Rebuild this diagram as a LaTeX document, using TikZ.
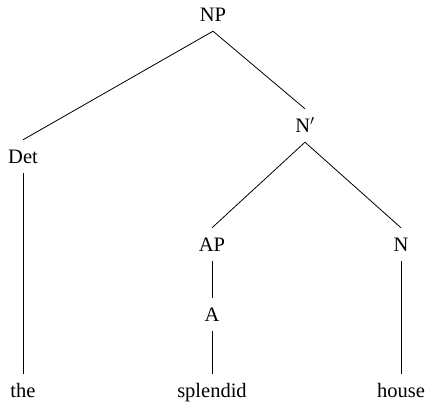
\documentclass[tikz,border=0pt]{standalone}
\usepackage{fontspec}
\setmainfont{Liberation Serif}
\usepackage{tikz}
\usetikzlibrary{positioning}
\tikzstyle{cat}=[anchor=base, inner xsep=0pt, inner ysep=0pt, text height=24pt,
  text depth=9pt, font=\fontsize{20.5}{24}\selectfont]
\tikzstyle{branch}=[draw, line width=0.8pt, color=black]
\newcommand{\cat}[2]{node (#1)[cat]{#2}}
\begin{document}
\begin{tikzpicture}[x=1pt,y=-1pt]
  \useasboundingbox (0,0) rectangle (432,409);

  % Draw the labels of the tree

  \path (213,22) \cat{np}{NP};
  \path (23,164) \cat{det}{Det};
  \path (305,133) \cat{nbar}{N$'$};
  \path (212,252) \cat{ap}{AP};
  \path (401,252) \cat{n}{N};
  \path (212,322) \cat{a}{A};

  \path (23,398) \cat{the}{the};
  \path (212,398) \cat{splendid}{splendid};
  \path (401,398) \cat{house}{house};

  % Draw the branches

  \path [branch] (np.south) -- (det.north);
  \path [branch] (np.south) -- (nbar.north);
  \path [branch] (nbar.south) -- (ap.north);
  \path [branch] (nbar.south) -- (n.north);
  \path [branch] (det.south) -- (the.north);
  \path [branch] (ap.south) -- (a.north);
  \path [branch] (a.south) -- (splendid.north);
  \path [branch] (n.south) -- (house.north);

\end{tikzpicture}
\end{document}
